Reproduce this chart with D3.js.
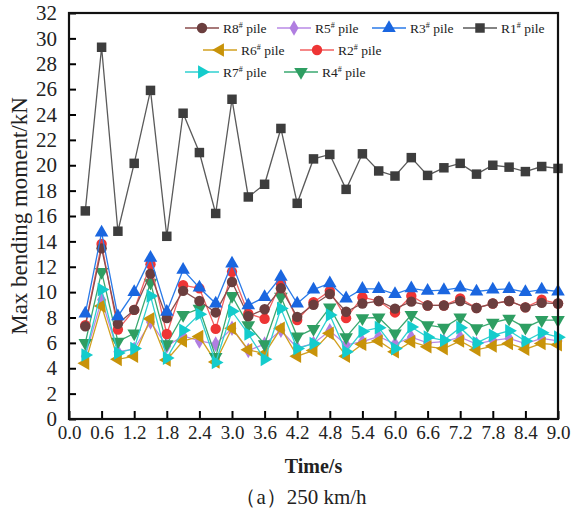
<!DOCTYPE html>
<html>
<head>
<meta charset="utf-8">
<script src="https://cdn.jsdelivr.net/npm/d3@7/dist/d3.min.js"></script>
<style>
  html, body { margin: 0; padding: 0; background: #fff; }
  svg { display: block; font-family: "Liberation Serif", "Times New Roman", serif; }
</style>
</head>
<body>
<svg id="chart" width="582" height="513"></svg>
<script>
// Time stamps (s) of each sample
const times = [0.3, 0.6, 0.9, 1.2, 1.5, 1.8, 2.1, 2.4, 2.7, 3.0,
               3.3, 3.6, 3.9, 4.2, 4.5, 4.8, 5.1, 5.4, 5.7, 6.0,
               6.3, 6.6, 6.9, 7.2, 7.5, 7.8, 8.1, 8.4, 8.7, 9.0];

// Max bending moment (kN) per pile
const r1 = [16.4, 29.3, 14.8, 20.15, 25.9, 14.4, 24.1, 21.0, 16.2, 25.2,
            17.5, 18.5, 22.9, 17.0, 20.5, 20.85, 18.1, 20.9, 19.55, 19.15,
            20.6, 19.2, 19.8, 20.15, 19.3, 20.0, 19.85, 19.5, 19.9, 19.75];
const r2 = [7.4, 13.8, 7.05, 8.6, 12.2, 6.7, 10.55, 10.3, 7.1, 11.6,
            8.3, 7.9, 10.7, 7.8, 9.2, 10.1, 7.95, 9.6, 9.3, 8.4,
            9.7, 8.95, 8.95, 9.5, 8.75, 9.1, 9.3, 8.8, 9.4, 9.1];
const r3 = [8.3, 14.7, 8.1, 10.0, 12.7, 8.45, 11.75, 10.35, 9.1, 12.25,
            8.95, 9.6, 11.2, 9.1, 10.2, 10.7, 9.5, 10.25, 10.25, 9.85,
            10.3, 10.1, 10.15, 10.35, 10.05, 10.2, 10.25, 10.0, 10.2, 10.05];
const r4 = [6.0, 11.6, 6.1, 6.75, 10.75, 5.9, 8.2, 8.7, 4.9, 9.7,
            7.4, 5.9, 9.65, 6.5, 7.1, 8.8, 6.45, 7.95, 8.0, 6.75,
            8.2, 7.4, 7.2, 8.0, 7.15, 7.6, 7.9, 7.2, 7.8, 7.8];
const r5 = [4.95, 9.4, 5.3, 5.5, 7.65, 5.75, 6.55, 6.15, 5.9, 7.15,
            5.4, 5.9, 7.0, 5.6, 5.95, 6.95, 5.85, 6.1, 6.5, 5.9,
            6.45, 6.0, 6.1, 6.45, 5.9, 6.2, 6.35, 5.95, 6.35, 6.15];
const r6 = [4.4, 8.9, 4.7, 4.95, 7.9, 4.65, 6.15, 6.5, 4.5, 7.15,
            5.45, 5.15, 7.15, 4.95, 5.4, 6.75, 4.95, 5.9, 6.15, 5.3,
            6.1, 5.7, 5.55, 6.15, 5.45, 5.75, 5.95, 5.5, 5.95, 5.85];
const r7 = [5.05, 10.2, 5.2, 5.55, 9.7, 4.8, 7.0, 8.25, 4.45, 8.5,
            6.7, 4.7, 8.7, 5.55, 5.95, 8.2, 5.3, 6.9, 7.2, 5.55,
            7.25, 6.45, 6.2, 7.2, 6.0, 6.6, 6.95, 6.15, 6.8, 6.45];
const r8 = [7.3, 13.45, 7.5, 8.6, 11.45, 7.95, 10.1, 9.3, 8.4, 10.8,
            8.1, 8.65, 10.3, 8.05, 9.0, 9.85, 8.45, 9.1, 9.3, 8.7,
            9.25, 8.95, 8.95, 9.3, 8.75, 9.1, 9.3, 8.8, 9.15, 9.1];

// Axis tick values
const xTicks = [0.0, 0.6, 1.2, 1.8, 2.4, 3.0, 3.6, 4.2, 4.8, 5.4, 6.0, 6.6, 7.2, 7.8, 8.4, 9.0];
const yTicks = [0, 2, 4, 6, 8, 10, 12, 14, 16, 18, 20, 22, 24, 26, 28, 30, 32];

// Series definitions (legend labels are "R<n># pile")
const series = [
  { id: "R1", values: r1, line: "#5a5a5a", fill: "#3d3d3d", shape: "square" },
  { id: "R5", values: r5, line: "#b98ae6", fill: "#b07ee0", shape: "diamond" },
  { id: "R6", values: r6, line: "#d2a020", fill: "#c8930a", shape: "tri-left" },
  { id: "R4", values: r4, line: "#3aa870", fill: "#2e9e62", shape: "tri-down" },
  { id: "R7", values: r7, line: "#2fd0d0", fill: "#14cccc", shape: "tri-right" },
  { id: "R2", values: r2, line: "#f26060", fill: "#ee3535", shape: "circle" },
  { id: "R8", values: r8, line: "#8a4d4d", fill: "#6b3e3e", shape: "circle" },
  { id: "R3", values: r3, line: "#2a7ae8", fill: "#1a66e0", shape: "tri-up" }
];
const byId = Object.fromEntries(series.map(s => [s.id, s]));

const svg = d3.select("#chart");
const margin = { left: 69, right: 24, top: 13, bottom: 94 };
const W = 582, H = 513;

const x = d3.scaleLinear().domain([0, 9]).range([margin.left, W - margin.right]);
const y = d3.scaleLinear().domain([0, 32]).range([H - margin.bottom, margin.top]);

// Marker generators
function markerPath(shape) {
  switch (shape) {
    case "square": return d3.symbol(d3.symbolSquare, 90)();
    case "diamond": return d3.symbol(d3.symbolDiamond, 70)();
    case "circle": return d3.symbol(d3.symbolCircle, 85)();
    default: return d3.symbol(d3.symbolTriangle, 80)();
  }
}
function markerRotate(shape) {
  return shape === "tri-down" ? 180 : shape === "tri-left" ? -90 : shape === "tri-right" ? 90 : 0;
}

// Plot lines and markers
const line = d3.line().x((d, i) => x(times[i])).y(d => y(d));
const plot = svg.append("g");
series.forEach(s => {
  const g = plot.append("g");
  g.append("path")
    .attr("d", line(s.values))
    .attr("fill", "none")
    .attr("stroke", s.line)
    .attr("stroke-width", 1.3);
  g.selectAll("path.m")
    .data(s.values)
    .join("path")
    .attr("class", "m")
    .attr("d", markerPath(s.shape))
    .attr("transform", (d, i) => `translate(${x(times[i])},${y(d)}) rotate(${markerRotate(s.shape)})`)
    .attr("fill", s.fill);
});

// Axes (ticks pointing inward)
const xAxis = d3.axisBottom(x).tickValues(xTicks).tickSize(-8).tickPadding(7)
  .tickFormat(d3.format(".1f"));
const gx = svg.append("g").attr("transform", `translate(0,${y(0)})`).call(xAxis);
gx.select(".domain").remove();
gx.selectAll("line").attr("stroke", "#000").attr("stroke-width", 2);
gx.selectAll("text").attr("font-size", 19).attr("fill", "#222")
  .attr("font-family", "Liberation Serif, serif");

const yAxis = d3.axisLeft(y).tickValues(yTicks).tickSize(-7).tickPadding(12);
const gy = svg.append("g").attr("transform", `translate(${x(0)},0)`).call(yAxis);
gy.select(".domain").remove();
gy.selectAll("line").attr("stroke", "#000").attr("stroke-width", 2);
gy.selectAll("text").attr("font-size", 21).attr("fill", "#222")
  .attr("font-family", "Liberation Serif, serif");

// Frame
svg.append("rect")
  .attr("x", x(0)).attr("y", y(32))
  .attr("width", x(9) - x(0)).attr("height", y(0) - y(32))
  .attr("fill", "none").attr("stroke", "#111").attr("stroke-width", 2.2);

// Legend
const legendRows = [
  [["R8", 185], ["R5", 277], ["R3", 372], ["R1", 463]],
  [["R6", 203], ["R2", 300]],
  [["R7", 185], ["R4", 284]]
];
const rowY = [28, 50, 72];
const legend = svg.append("g");
legendRows.forEach((row, ri) => {
  row.forEach(([id, lx]) => {
    const s = byId[id];
    const cy = rowY[ri];
    const g = legend.append("g");
    g.append("line").attr("x1", lx).attr("x2", lx + 34).attr("y1", cy).attr("y2", cy)
      .attr("stroke", s.line).attr("stroke-width", 1.5);
    g.append("path").attr("d", markerPath(s.shape))
      .attr("transform", `translate(${lx + 17},${cy}) rotate(${markerRotate(s.shape)})`)
      .attr("fill", s.fill);
    const t = g.append("text").attr("x", lx + 38).attr("y", cy + 4.5)
      .attr("font-size", 13.5).attr("fill", "#222");
    t.append("tspan").text(id);
    t.append("tspan").text("#").attr("font-size", 8).attr("dy", -5);
    t.append("tspan").text(" pile").attr("dy", 5);
  });
});

// Axis titles
svg.append("text")
  .attr("transform", `translate(27,${(y(0) + y(32)) / 2}) rotate(-90)`)
  .attr("text-anchor", "middle")
  .attr("font-size", 23).attr("fill", "#222")
  .text("Max bending moment/kN");

svg.append("text")
  .attr("x", (x(0) + x(9)) / 2).attr("y", 473)
  .attr("text-anchor", "middle")
  .attr("font-size", 20).attr("font-weight", "bold").attr("fill", "#222")
  .text("Time/s");

svg.append("text")
  .attr("x", 301).attr("y", 504)
  .attr("text-anchor", "middle")
  .attr("font-size", 21).attr("fill", "#222")
  .text("（a）250 km/h");
</script>
</body>
</html>
